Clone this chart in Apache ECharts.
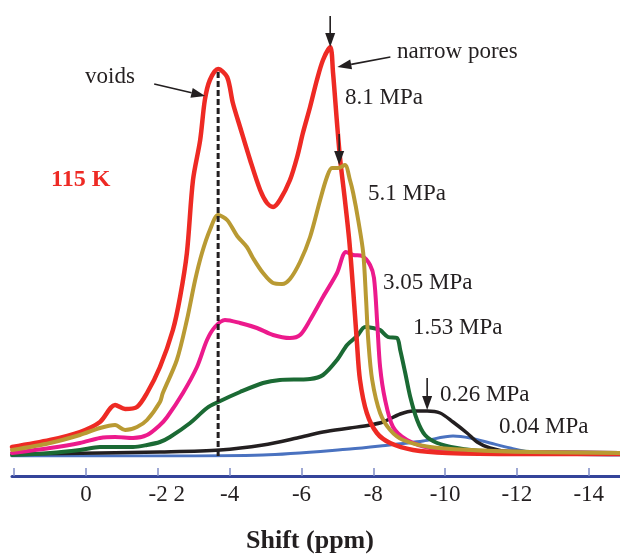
<!DOCTYPE html>
<html>
<head>
<meta charset="utf-8">
<script src="https://cdn.jsdelivr.net/npm/echarts@6/dist/echarts.min.js"></script>
<style>
  html, body { margin: 0; padding: 0; background: #fff; }
  #chart { width: 620px; height: 554px; }
</style>
</head>
<body>
<div id="chart"></div>
<script>
// 129Xe NMR spectra at 115 K, chemical shift (ppm) vs. intensity (arb. units)
const ppmTicks = [2, 0, -2, -4, -6, -8, -10, -12, -14];
const ppmLabels = [0, -2, -4, -6, -8, -10, -12, -14];

const p81 = [ // 8.1 MPa
  [2.06, 9], [1.00, 16], [0.17, 24], [-0.39, 34], [-0.81, 51], [-1.09, 47], [-1.42, 49],
  [-1.70, 63], [-2.06, 89], [-2.42, 126], [-2.62, 159], [-2.81, 203], [-2.98, 276],
  [-3.18, 316], [-3.31, 356], [-3.45, 376], [-3.68, 387], [-3.93, 379], [-4.09, 353],
  [-4.29, 329], [-4.57, 296], [-4.85, 266], [-5.04, 253], [-5.21, 249], [-5.40, 256],
  [-5.68, 276], [-5.88, 299], [-6.04, 323], [-6.24, 349], [-6.43, 376], [-6.60, 396],
  [-6.80, 409], [-6.88, 383], [-6.99, 333], [-7.08, 296], [-7.21, 256], [-7.33, 216],
  [-7.44, 166], [-7.54, 116], [-7.63, 76], [-7.82, 43], [-8.10, 23], [-8.47, 13],
  [-9.11, 6], [-10.06, 3], [-12.09, 2], [-14.87, 2]
];
const p51 = [ // 5.1 MPa
  [2.06, 6], [1.00, 13], [0.17, 21], [-0.39, 28], [-0.81, 31], [-1.09, 26], [-1.42, 29],
  [-1.70, 36], [-2.06, 54], [-2.14, 63], [-2.53, 96], [-2.81, 136], [-3.04, 176],
  [-3.23, 203], [-3.45, 226], [-3.68, 241], [-3.93, 236], [-4.21, 220], [-4.48, 209],
  [-4.65, 198], [-4.93, 183], [-5.21, 173], [-5.46, 172], [-5.68, 177], [-5.96, 194],
  [-6.24, 219], [-6.52, 256], [-6.71, 279], [-6.85, 288], [-7.02, 288], [-7.21, 291],
  [-7.35, 276], [-7.44, 263], [-7.58, 236], [-7.72, 203], [-7.80, 156], [-7.86, 116],
  [-7.97, 76], [-8.19, 43], [-8.47, 26], [-8.83, 16], [-9.58, 9], [-10.70, 6],
  [-12.37, 4], [-14.87, 3]
];
const p305 = [ // 3.05 MPa
  [2.06, 3], [1.00, 8], [0.17, 13], [-0.39, 18], [-0.81, 19], [-1.31, 18], [-1.70, 21],
  [-2.06, 31], [-2.26, 39], [-2.70, 63], [-3.09, 89], [-3.37, 116], [-3.59, 129],
  [-3.87, 136], [-4.29, 133], [-4.76, 128], [-5.21, 121], [-5.68, 118], [-5.96, 121],
  [-6.24, 136], [-6.60, 159], [-6.99, 183], [-7.24, 204], [-7.44, 201], [-7.69, 200],
  [-7.91, 191], [-8.02, 178], [-8.11, 133], [-8.19, 89], [-8.33, 56], [-8.55, 29],
  [-8.94, 16], [-9.58, 8], [-10.50, 5], [-14.87, 3]
];
const p153 = [ // 1.53 MPa
  [2.06, 1], [1.00, 3], [0.17, 6], [-0.39, 9], [-0.81, 9], [-1.31, 9], [-1.70, 11],
  [-2.06, 14], [-2.34, 19], [-2.90, 33], [-3.37, 48], [-3.68, 54], [-4.29, 64],
  [-4.93, 73], [-5.40, 76], [-6.24, 77], [-6.60, 81], [-6.99, 96], [-7.27, 111],
  [-7.55, 120], [-7.77, 129], [-7.99, 128], [-8.19, 126], [-8.41, 119], [-8.66, 118],
  [-8.75, 106], [-8.89, 83], [-9.03, 59], [-9.22, 36], [-9.44, 21], [-9.78, 13],
  [-10.33, 8], [-11.06, 5], [-14.87, 3]
];
const p026 = [ // 0.26 MPa
  [2.03, 2], [-0.39, 3], [-2.06, 4], [-3.73, 6], [-4.93, 11], [-5.88, 18], [-6.60, 24],
  [-7.35, 28], [-7.91, 31], [-8.27, 34], [-8.75, 42], [-9.11, 45], [-9.50, 45],
  [-9.86, 43], [-10.22, 34], [-10.61, 23], [-10.89, 14], [-11.25, 8], [-11.81, 4],
  [-13.20, 2], [-14.87, 2]
];
const p004 = [ // 0.04 MPa
  [2.06, 0], [-2.14, 0], [-4.93, 1], [-7.35, 7], [-8.19, 10], [-9.39, 15], [-10.22, 20],
  [-10.70, 18], [-11.25, 13], [-11.81, 8], [-12.37, 4], [-13.20, 2], [-14.87, 1]
];

const voidsShift = -3.68;                 // position of the void-space peak
const voidsPeak = p81.find(d => d[0] === voidsShift)[1];

const serif = '"Liberation Serif", "Times New Roman", serif';
const ink = '#231f20';

function spectrum(name, data, color, width) {
  return {
    name, type: 'line', data, smooth: 0.3, showSymbol: false, silent: true,
    lineStyle: { color, width, cap: 'round', join: 'round' }
  };
}

const chart = echarts.init(document.getElementById('chart'), null, { renderer: 'canvas' });

chart.setOption({
  animation: false,
  backgroundColor: '#fff',
  grid: { left: 12, right: 0, top: 0, bottom: 98 },
  xAxis: {
    type: 'value', inverse: true, min: -14.87, max: 2.06, offset: 20,
    splitLine: { show: false },
    axisLine: { show: true, onZero: false, lineStyle: { color: '#34449a', width: 3 } },
    axisTick: { show: true, inside: true, length: 8, customValues: ppmTicks,
      lineStyle: { color: '#7f8cc6', width: 1.5 } },
    axisLabel: {
      customValues: ppmLabels, margin: 7, color: ink, fontFamily: serif, fontSize: 23,
      formatter: v => v === -2 ? '{s|-2 2}' : String(v),
      rich: { s: { fontFamily: serif, fontSize: 23, color: ink, padding: [0, 0, 0, 18] } }
    }
  },
  yAxis: { type: 'value', min: 0, max: 456, show: false },
  series: [
    spectrum('0.04 MPa', p004, '#4a72c0', 3),
    spectrum('0.26 MPa', p026, ink, 3.5),
    spectrum('1.53 MPa', p153, '#1b6a34', 4),
    spectrum('3.05 MPa', p305, '#ec1a8c', 4),
    spectrum('8.1 MPa', p81, '#ee2a24', 4.5),
    spectrum('5.1 MPa', p51, '#b99a33', 4),
    {
      name: 'voids', type: 'line', silent: true, showSymbol: false,
      data: [[voidsShift, 0], [voidsShift, voidsPeak - 3]],
      lineStyle: { color: ink, width: 3, type: [6, 3] }
    }
  ]
});

// annotation arrows, anchored to points on the spectra
function arrow(from, tip, headLen, headW) {
  const dx = tip[0] - from[0], dy = tip[1] - from[1];
  const L = Math.hypot(dx, dy), ux = dx / L, uy = dy / L;
  const bx = tip[0] - ux * headLen, by = tip[1] - uy * headLen;
  const px = -uy * headW / 2, py = ux * headW / 2;
  return [
    { type: 'line', silent: true, z: 10,
      shape: { x1: from[0], y1: from[1], x2: bx, y2: by },
      style: { stroke: ink, lineWidth: 1.6 } },
    { type: 'polygon', silent: true, z: 10,
      shape: { points: [tip, [bx + px, by + py], [bx - px, by - py]] },
      style: { fill: ink } }
  ];
}
function label(text, x, y, opts) {
  const o = opts || {};
  return {
    type: 'text', silent: true, z: 10, x, y,
    style: {
      text, fill: o.color || ink,
      font: (o.bold ? 'bold ' : '') + (o.size || 23) + 'px ' + serif,
      textAlign: o.align || 'left', textVerticalAlign: 'middle',
      align: o.align || 'left', verticalAlign: 'middle'
    }
  };
}

const px = p => chart.convertToPixel({ gridIndex: 0 }, p);
const narrowTop = px([-6.80, 409]);
const narrowFlank = px([-7.00, 389]);
const voidsFlank = px([-3.32, 360]);
const goldTop = px([-7.05, 291]);
const lowTop = px([-9.50, 46]);

const elements = [].concat(
  arrow([narrowTop[0], narrowTop[1] - 31], narrowTop, 14, 10),
  arrow([narrowFlank[0] + 53, narrowFlank[1] - 10], narrowFlank, 14, 10),
  arrow([voidsFlank[0] - 51, voidsFlank[1] - 12], voidsFlank, 14, 10),
  arrow([goldTop[0], goldTop[1] - 31], goldTop, 14, 10),
  arrow([lowTop[0], lowTop[1] - 32], lowTop, 14, 10),
  [
    label('voids', 85, 77),
    label('narrow pores', 397, 52),
    label('8.1 MPa', 345, 98),
    label('5.1 MPa', 368, 194),
    label('3.05 MPa', 383, 283),
    label('1.53 MPa', 413, 328),
    label('0.26 MPa', 440, 395),
    label('0.04 MPa', 499, 427),
    label('115 K', 51, 180, { bold: true, size: 24, color: '#ee2a24' }),
    label('Shift (ppm)', 310, 541, { bold: true, size: 26, align: 'center' })
  ]
);
chart.setOption({ graphic: { elements } });
</script>
</body>
</html>
